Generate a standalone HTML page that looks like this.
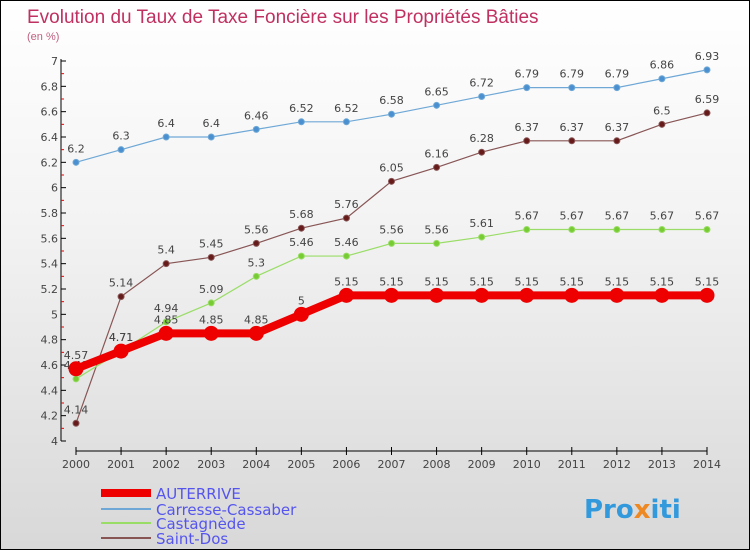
<!DOCTYPE html>
<html><head><meta charset="utf-8"><style>
body{margin:0}
#c{width:748px;height:548px;border:1px solid #000;background:linear-gradient(#fff,#f3f3f3 40%,#d8d8d8);position:relative;overflow:hidden;font-family:"DejaVu Sans","Liberation Sans",sans-serif}
</style></head><body>
<div id="c">
<svg id="s" width="748" height="548" xmlns="http://www.w3.org/2000/svg">
<text x="26" y="22" font-size="19" font-family="Liberation Sans, sans-serif" fill="#c03060">Evolution du Taux de Taxe Foncière sur les Propriétés Bâties</text>
<text x="26" y="39" font-size="11" font-family="Liberation Sans, sans-serif" fill="#c06080">(en %)</text>
<g id="axes"></g><g id="series"></g>
<g font-size="15" fill="#5555ee">
<line x1="100" y1="492" x2="150" y2="492" stroke="#ee0000" stroke-width="8"/>
<text x="155" y="498">AUTERRIVE</text>
<line x1="100" y1="508" x2="150" y2="508" stroke="#6fa8d6" stroke-width="2"/>
<text x="155" y="514">Carresse-Cassaber</text>
<line x1="100" y1="522" x2="150" y2="522" stroke="#99dd66" stroke-width="2"/>
<text x="155" y="528">Castagnède</text>
<line x1="100" y1="537" x2="150" y2="537" stroke="#885555" stroke-width="2"/>
<text x="155" y="543">Saint-Dos</text>
</g>
<text x="583" y="517" font-size="26" font-weight="bold" fill="#3399dd">Pro<tspan fill="#ee8822">x</tspan>iti</text>
</svg></div>
<script>
const years=[2000,2001,2002,2003,2004,2005,2006,2007,2008,2009,2010,2011,2012,2013,2014];
const auterrive=[4.57,4.71,4.85,4.85,4.85,5,5.15,5.15,5.15,5.15,5.15,5.15,5.15,5.15,5.15];
const carresse=[6.2,6.3,6.4,6.4,6.46,6.52,6.52,6.58,6.65,6.72,6.79,6.79,6.79,6.86,6.93];
const castagnede=[4.49,4.71,4.94,5.09,5.3,5.46,5.46,5.56,5.56,5.61,5.67,5.67,5.67,5.67,5.67];
const saintDos=[4.14,5.14,5.4,5.45,5.56,5.68,5.76,6.05,6.16,6.28,6.37,6.37,6.37,6.5,6.59];
const yTicks=[4,4.2,4.4,4.6,4.8,5,5.2,5.4,5.6,5.8,6,6.2,6.4,6.6,6.8,7];
const NS="http://www.w3.org/2000/svg";
const xs=y=>75+(y-2000)*(631/14);
const ys=v=>440-(v-4)*(380/3);
function mk(t,a,p){const e=document.createElementNS(NS,t);for(const k in a)e.setAttribute(k,a[k]);p.appendChild(e);return e;}
const ax=document.getElementById('axes');
const yl=mk('line',{x1:60,y1:58,x2:60,y2:440,stroke:'#000'},ax);


const xl=mk('line',{x1:75,y1:450,x2:706,y2:450,stroke:'#000'},ax);


yTicks.forEach(v=>{
 mk('line',{x1:60,y1:ys(v),x2:65,y2:ys(v),stroke:'#000'},ax);
 if(v<7) mk('line',{x1:60,y1:ys(v+0.1),x2:63,y2:ys(v+0.1),stroke:'#e00'},ax);
 const t=mk('text',{x:57,y:ys(v)+4,'font-size':11,'text-anchor':'end',fill:'#444'},ax);
 t.textContent=String(v);
 
 
});
years.forEach(y=>{
 mk('line',{x1:xs(y),y1:446,x2:xs(y),y2:454,stroke:'#000'},ax);
 const t=mk('text',{x:xs(y),y:467,'font-size':11,'text-anchor':'middle',fill:'#444'},ax);
 t.textContent=String(y);
 
 
});
const sg=document.getElementById('series');
function draw(data,name,color,dot,w,r){
 const g=mk('g',{},sg);
 
 
 mk('polyline',{points:data.map((v,i)=>xs(years[i])+','+ys(v)).join(' '),fill:'none',stroke:color,'stroke-width':w},g);
 data.forEach((v,i)=>{
  const c=mk('circle',{cx:xs(years[i]),cy:ys(v),r:r,fill:dot,stroke:color,'stroke-width':1},g);
  
  
  const t=mk('text',{x:xs(years[i]),y:ys(v)-10,'font-size':11,'text-anchor':'middle',fill:'#444'},g);
  t.textContent=String(v);
  
  
 });
}
draw(carresse,'carresse-cassaber','#6fa8d6','#4a90d0',1.2,3);
draw(saintDos,'saint-dos','#885555','#661a1a',1.2,3);
draw(castagnede,'castagnede','#99dd66','#77cc33',1.2,3);
draw(auterrive,'auterrive','#ee0000','#ee0000',8,7);
</script>
</body></html>
